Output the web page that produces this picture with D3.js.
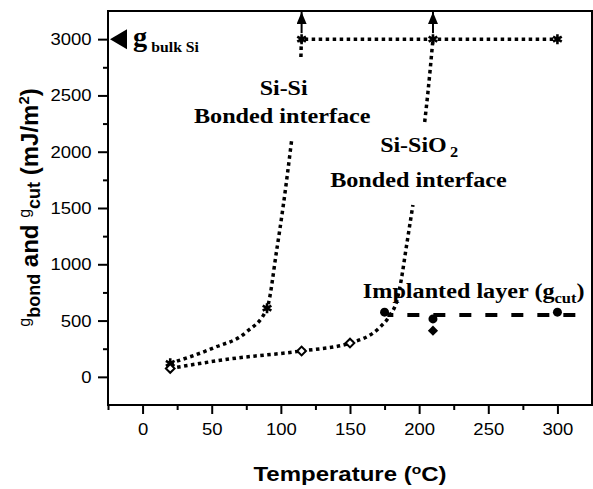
<!DOCTYPE html>
<html>
<head>
<meta charset="utf-8">
<script src="https://cdn.jsdelivr.net/npm/d3@7"></script>
<style>
  body { margin: 0; background: #fff; }
  svg { display: block; }
</style>
</head>
<body>
<div id="chart"></div>
<script>
// Si-Si bonded interface (star markers)
const siSiTemps = [20, 90, 115, 210, 300];
const siSiEnergy = [120, 610, 3000, 3000, 3000];
// Si-SiO2 bonded interface (open diamonds)
const siOxTemps = [20, 115, 150];
const siOxEnergy = [75, 230, 300];
// implanted layer, g_cut (filled circles, one filled diamond)
const cutTemps = [175, 210, 300];
const cutEnergy = [575, 515, 575];
const cutDiamondTemps = [210];
const cutDiamondEnergy = [410];
const cutLevel = [[177, 550], [315, 550]];
// dotted guide curves (null = hidden behind a label)
const siSiFit = [[20, 120], [51, 256], [75, 398], [90, 610], [97, 1127], [101.5, 1500], [108, 2122], null,
                 [114.5, 2841], [115, 3000], [210, 3000], [300, 3000]];
const siOxFit = [[20, 75], [63, 159], [115, 230], [150, 300], [171, 434], [179, 549], [184, 681], [187, 858],
                 [190.4, 1127], [195.5, 1527], null, [204, 2264], [206.3, 2521], [210, 3000]];
// arrows pointing to the bulk value
const arrowTemps = [115, 210];
const bulkEnergy = 3000;

const xTicks = [0, 50, 100, 150, 200, 250, 300];
const xMinor = [-25, 25, 75, 125, 175, 225, 275];
const yTicks = [0, 500, 1000, 1500, 2000, 2500, 3000];
const yMinor = [250, 750, 1250, 1750, 2250, 2750];

const width = 593, height = 489;
const sans = "'Liberation Sans', Arial, Helvetica, sans-serif";
const serif = "'Liberation Serif', 'Times New Roman', serif";

const svg = d3.select("#chart").append("svg")
    .attr("width", width)
    .attr("height", height);

const x = d3.scaleLinear().domain([-25, 325]).range([108, 592]);
const y = d3.scaleLinear().domain([-250, 3250]).range([405, 11]);

// arrow head marker
svg.append("defs").append("marker")
    .attr("id", "head")
    .attr("viewBox", "0 -5 12 10")
    .attr("refX", 12).attr("refY", 0)
    .attr("markerWidth", 12).attr("markerHeight", 10)
    .attr("markerUnits", "userSpaceOnUse")
    .attr("orient", "auto")
    .append("path").attr("d", "M0,-5L12,0L0,5Z").attr("fill", "#000");

// axes
svg.append("g")
    .attr("transform", `translate(${x(-25)},0)`)
    .call(d3.axisLeft(y).tickValues(yTicks).tickFormat(d3.format("d")).tickSize(10).tickPadding(5));
svg.append("g")
    .attr("transform", `translate(${x(-25)},0)`)
    .call(d3.axisLeft(y).tickValues(yMinor).tickSize(5).tickFormat(""));
svg.append("g")
    .attr("transform", `translate(0,${y(-250)})`)
    .call(d3.axisBottom(x).tickValues(xTicks).tickFormat(d3.format("d")).tickSize(9).tickPadding(9));
svg.append("g")
    .attr("transform", `translate(0,${y(-250)})`)
    .call(d3.axisBottom(x).tickValues(xMinor).tickSize(5).tickFormat(""));

svg.selectAll(".domain").remove();
svg.selectAll(".tick line").attr("stroke", "#000").attr("stroke-width", 2);
svg.selectAll(".tick text")
    .attr("fill", "#000")
    .style("font-family", sans)
    .style("font-size", "17px")
    .attr("transform", "scale(1.09,1)");

// frame
svg.append("rect")
    .attr("x", x(-25)).attr("y", y(3250))
    .attr("width", x(325) - x(-25)).attr("height", y(-250) - y(3250))
    .attr("fill", "none").attr("stroke", "#000").attr("stroke-width", 2);

// guide curves
const fitLine = d3.line()
    .defined(d => d)
    .x(d => x(d[0])).y(d => y(d[1]))
    .curve(d3.curveMonotoneX);

[siSiFit, siOxFit].forEach(data => {
    svg.append("path")
        .attr("d", fitLine(data))
        .attr("fill", "none")
        .attr("stroke", "#000")
        .attr("stroke-width", 3.5)
        .attr("stroke-dasharray", "3.5,3.5");
});

// g_cut level
svg.append("path")
    .attr("d", d3.line().x(d => x(d[0])).y(d => y(d[1]))(cutLevel))
    .attr("fill", "none")
    .attr("stroke", "#000")
    .attr("stroke-width", 4)
    .attr("stroke-dasharray", "12,14")
    .attr("stroke-dashoffset", 6);

// arrows up to the frame
svg.selectAll(".arrow")
    .data(arrowTemps)
    .enter().append("line")
    .attr("x1", d => x(d)).attr("y1", y(bulkEnergy) - 6)
    .attr("x2", d => x(d)).attr("y2", y(3250) + 1)
    .attr("stroke", "#000").attr("stroke-width", 2)
    .attr("marker-end", "url(#head)");

// bulk Si pointer
svg.append("path")
    .attr("d", `M${x(-25) + 2},${y(bulkEnergy)}L${x(-25) + 19},${y(bulkEnergy) - 10}L${x(-25) + 19},${y(bulkEnergy) + 10}Z`)
    .attr("fill", "#000");

// markers
svg.selectAll(".star")
    .data(d3.zip(siSiTemps, siSiEnergy))
    .enter().append("path")
    .attr("transform", d => `translate(${x(d[0])},${y(d[1])})`)
    .attr("d", d3.symbol(d3.symbolAsterisk, 70)())
    .attr("fill", "none").attr("stroke", "#000").attr("stroke-width", 2.6);

svg.selectAll(".open")
    .data(d3.zip(siOxTemps, siOxEnergy))
    .enter().append("path")
    .attr("transform", d => `translate(${x(d[0])},${y(d[1])}) rotate(45)`)
    .attr("d", d3.symbol(d3.symbolSquare, 38)())
    .attr("fill", "#fff").attr("stroke", "#000").attr("stroke-width", 2);

svg.selectAll(".dot")
    .data(d3.zip(cutTemps, cutEnergy))
    .enter().append("circle")
    .attr("cx", d => x(d[0])).attr("cy", d => y(d[1]))
    .attr("r", 4.5).attr("fill", "#000");

svg.selectAll(".fdiamond")
    .data(d3.zip(cutDiamondTemps, cutDiamondEnergy))
    .enter().append("path")
    .attr("transform", d => `translate(${x(d[0])},${y(d[1])}) rotate(45)`)
    .attr("d", d3.symbol(d3.symbolSquare, 52)())
    .attr("fill", "#000");

// labels
function label(px, py, sx, anchor) {
    return svg.append("text")
        .attr("transform", `translate(${px},${py}) scale(${sx},1)`)
        .attr("text-anchor", anchor)
        .style("font-family", serif)
        .style("font-weight", "bold")
        .style("font-size", "22px")
        .attr("fill", "#000");
}

label(x(102), y(2505), 1.09, "middle").text("Si-Si");
label(x(101), y(2255), 1.1, "middle").text("Bonded interface");
const ox = label(x(200), y(2000), 1.09, "middle");
ox.append("tspan").text("Si-SiO");
ox.append("tspan").attr("dx", 3).attr("dy", 5).style("font-size", "15px").text("2");
label(x(199.5), y(1690), 1.1, "middle").text("Bonded interface");

const imp = label(x(159.3), y(700), 1.1, "start");
imp.append("tspan").text("Implanted layer (g");
imp.append("tspan").attr("dy", 5).style("font-size", "15px").text("cut");
imp.append("tspan").attr("dy", -5).text(")");

const bulk = label(x(-7), y(2940), 1.05, "start");
bulk.append("tspan").style("font-size", "27px").text("g");
bulk.append("tspan").attr("dx", 4).attr("dy", 6).style("font-size", "15px").text("bulk Si");

// axis titles
const xt = svg.append("text")
    .attr("transform", `translate(${(x(-25) + x(325)) / 2},481) scale(1.2,1)`)
    .attr("text-anchor", "middle")
    .style("font-family", sans).style("font-weight", "bold").style("font-size", "20px");
xt.append("tspan").text("Temperature (");
xt.append("tspan").attr("dy", -7).style("font-size", "13px").text("o");
xt.append("tspan").attr("dy", 7).text("C)");

const yt = svg.append("text")
    .attr("transform", "translate(38,207.5) rotate(-90)")
    .attr("text-anchor", "middle")
    .style("font-family", sans).style("font-weight", "bold").style("font-size", "24px");
yt.append("tspan").attr("dy", -8).style("font-weight", "normal").style("font-size", "16px").text("g");
yt.append("tspan").attr("dy", 10).style("font-size", "18px").text("bond");
yt.append("tspan").attr("dy", -2).text(" and ");
yt.append("tspan").attr("dy", -8).style("font-weight", "normal").style("font-size", "16px").text("g");
yt.append("tspan").attr("dy", 10).style("font-size", "18px").text("cut");
yt.append("tspan").attr("dy", -2).text(" (mJ/m");
yt.append("tspan").attr("dy", -9).style("font-size", "15px").text("2");
yt.append("tspan").attr("dy", 9).text(")");
</script>
</body>
</html>
